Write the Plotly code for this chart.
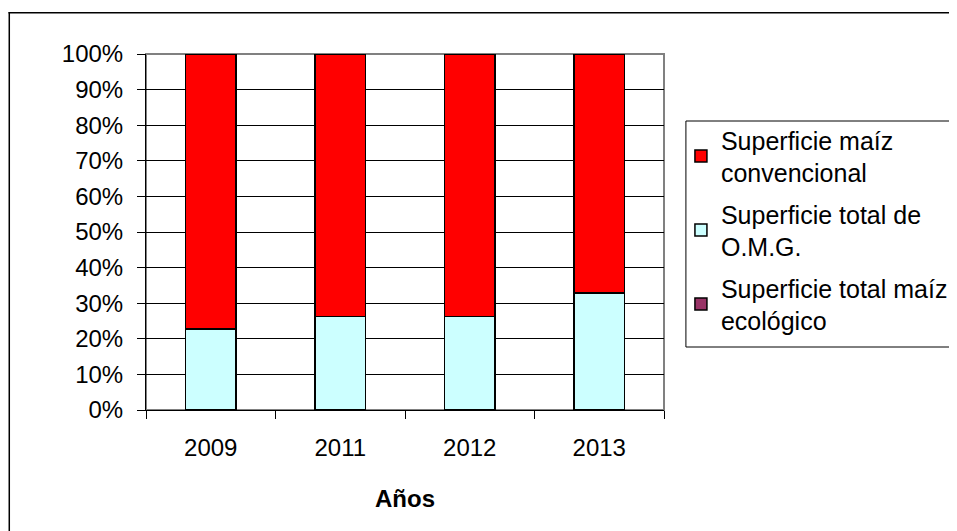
import plotly.graph_objects as go

years = ["2009", "2011", "2012", "2013"]
ecologico = [0, 0, 0, 0]
omg = [22.8, 26.2, 26.2, 32.9]
convencional = [77.2, 73.8, 73.8, 67.1]

names = ["Superficie total maíz<br>ecológico", "Superficie total de<br>O.M.G.", "Superficie maíz<br>convencional"]
colors = ["#993366", "#CCFFFF", "#FF0000"]
ranks = [3, 2, 1]
series = [ecologico, omg, convencional]

fig = go.Figure()
for i, (n, c, v, r) in enumerate(zip(names, colors, series, ranks)):
    fig.add_trace(go.Bar(x=years, y=v, name=n, legendgroup=f"g{i}", legendrank=r,
                         marker=dict(color=c, line=dict(color="black", width=1.5))))

# page body has an 8px margin, so figure pixel coords = screen coords - 8
OFF = 8
W, H = 957, 531
L, R, T, B = 146 - OFF, 666 - OFF, 54 - OFF, 410 - OFF
pw, ph = R - L, B - T
px = lambda x: (x - OFF - L) / pw
py = lambda y: (B - (y - OFF)) / ph

def hline(x0, x1, y, w):
    return dict(type="line", xref="paper", yref="paper", x0=px(x0), x1=px(x1), y0=py(y), y1=py(y),
                line=dict(color="black", width=w))

def vline(x, y0, y1, w):
    return dict(type="line", xref="paper", yref="paper", x0=px(x), x1=px(x), y0=py(y0), y1=py(y1),
                line=dict(color="black", width=w))

font = "Liberation Sans, Arial, sans-serif"
fig.update_layout(
    width=W, height=H,
    margin=dict(l=L, r=W - R, t=T, b=H - B),
    barmode="stack", bargap=0.61,
    paper_bgcolor="white", plot_bgcolor="white",
    font=dict(family=font, size=24, color="black"),
    showlegend=True,
    legend=dict(x=px(683), y=py(117), xanchor="left", yanchor="top",
                traceorder="grouped", tracegroupgap=6, font=dict(size=25),
                bgcolor="rgba(0,0,0,0)", borderwidth=0, itemclick=False),
    xaxis=dict(type="category", tickson="boundaries", ticks="outside", ticklen=8,
               tickcolor="black", showline=True, linecolor="black", linewidth=1,
               showgrid=False, ticklabelstandoff=16,
               title=dict(text="<b>Años</b>", standoff=30, font=dict(size=24))),
    yaxis=dict(range=[0, 100], dtick=10, ticksuffix="%", ticks="outside", ticklen=8,
               tickcolor="black", showline=True, linecolor="black", linewidth=1,
               showgrid=True, gridcolor="black", gridwidth=1, zeroline=False,
               ticklabelstandoff=9),
    shapes=[
        dict(type="rect", xref="paper", yref="paper", x0=0, x1=1, y0=0, y1=1,
             line=dict(color="#808080", width=2), layer="below"),
        # outer chart border (only left and top edges are in view)
        hline(8, 1100, 12.75, 1.5),
        vline(8.75, 12, 800, 1.5),
        # legend box (right edge out of view)
        hline(688, 1100, 121, 1),
        hline(688, 1100, 347, 1),
        vline(688, 121, 347, 1),
    ],
)

fig.write_html("out.html")
